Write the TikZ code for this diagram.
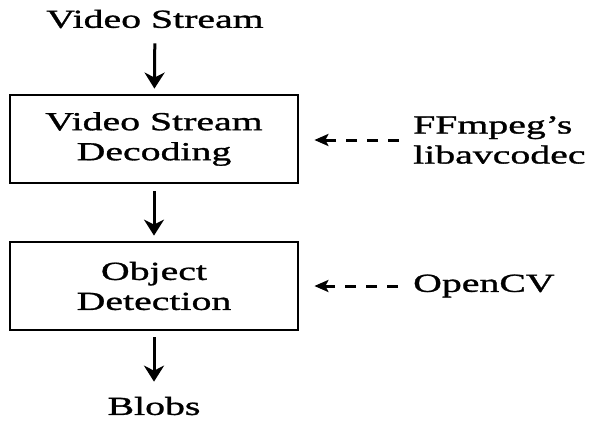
\documentclass[tikz,border=0pt]{standalone}
\usepackage{fontspec}
\setmainfont[FakeStretch=1.53,FakeBold=1.2]{Liberation Serif}
\usetikzlibrary{arrows.meta}
\begin{document}
\begin{tikzpicture}[x=1pt,y=-1pt,
  txt/.style={font=\fontsize{26}{30}\selectfont, inner sep=0pt},
  box/.style={draw, line width=2.8pt, minimum width=288pt, minimum height=88pt, align=center, font=\fontsize{26}{30}\selectfont, inner sep=0pt},
  flow/.style={-{Stealth[length=16pt,width=20pt,inset=5pt]}, line width=3pt},
  tool/.style={-{Stealth[length=14pt,width=12pt,inset=3pt]}, line width=3pt, dash pattern=on 11pt off 10pt},
]
\useasboundingbox (0,0) rectangle (591,421);
\node[txt] (src) at (155,19) {Video Stream};
\node[box] (dec) at (154,139) {Video Stream\\Decoding};
\node[box] (det) at (154,286) {Object\\Detection};
\node[txt] (blobs) at (154,406) {Blobs};
\node[txt, anchor=west, align=left] (ff) at (413,140) {FFmpeg's\\libavcodec};
\node[txt, anchor=west] (cv) at (413,286) {OpenCV};
\draw[flow, shorten <=15pt, shorten >=5pt] (src) -- (dec);
\draw[flow, shorten <=7pt, shorten >=5pt] (dec) -- (det);
\draw[flow, shorten <=6pt, shorten >=15pt] (det) -- (blobs);
\draw[tool, shorten <=14pt, shorten >=15pt] (ff.west) -- (ff.west -| dec.east);
\draw[tool, shorten <=15pt, shorten >=15pt] (cv.west) -- (cv.west -| det.east);
\end{tikzpicture}
\end{document}
